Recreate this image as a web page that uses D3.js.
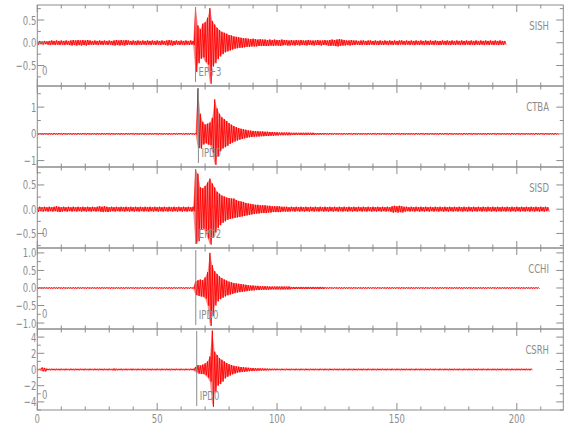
<!DOCTYPE html>
<html>
<head>
<meta charset="utf-8">
<script src="https://cdn.jsdelivr.net/npm/d3@7/dist/d3.min.js"></script>
<style>
  body { margin: 0; background: #fff; }
</style>
</head>
<body>
<div id="chart"></div>
<script>
// station traces: amplitude envelope, one value per second from t = 0
// (up = positive peak in that second, lo = negative peak)
const sishUp = [
  .03,.04,.03,.04,.03,.04,.05,.04,.05,.04,
  .05,.04,.05,.04,.05,.06,.05,.06,.05,.06,
  .05,.06,.05,.04,.05,.04,.05,.04,.05,.04,
  .05,.04,.05,.06,.05,.06,.05,.06,.05,.04,
  .05,.04,.05,.04,.05,.04,.05,.04,.05,.04,
  .05,.04,.05,.04,.05,.06,.05,.04,.05,.04,
  .05,.04,.05,.04,.05,.04,.78,.38,.30,.42,
  .45,.55,.76,.48,.40,.33,.28,.24,.22,.20,
  .17,.16,.14,.13,.12,.11,.10,.10,.09,.08,
  .09,.08,.07,.08,.07,.07,.06,.07,.06,.07,
  .06,.06,.07,.06,.06,.05,.06,.05,.06,.05,
  .06,.05,.05,.06,.05,.05,.05,.06,.05,.05,
  .06,.05,.06,.07,.06,.07,.08,.07,.06,.05,
  .05,.06,.05,.05,.04,.05,.05,.04,.05,.05,
  .04,.05,.04,.05,.04,.05,.04,.05,.04,.05,
  .04,.05,.05,.04,.05,.04,.05,.04,.05,.04,
  .05,.04,.05,.04,.05,.04,.05,.04,.04,.05,
  .04,.05,.04,.05,.04,.05,.04,.05,.04,.05,
  .04,.05,.04,.05,.04,.05,.04,.05,.04,.05,
  .04,.05,.04,.05,.04,.04];
const sishLo = [
  -.04,-.03,-.04,-.03,-.04,-.05,-.04,-.05,-.04,-.05,
  -.04,-.05,-.04,-.05,-.06,-.05,-.06,-.05,-.06,-.05,
  -.06,-.05,-.04,-.05,-.04,-.05,-.04,-.05,-.04,-.05,
  -.04,-.05,-.06,-.05,-.06,-.05,-.06,-.05,-.04,-.05,
  -.04,-.05,-.04,-.05,-.04,-.05,-.04,-.05,-.04,-.05,
  -.04,-.05,-.04,-.05,-.06,-.05,-.06,-.05,-.04,-.05,
  -.04,-.05,-.04,-.05,-.04,-.05,-.64,-.45,-.35,-.32,
  -.42,-.48,-.90,-.52,-.45,-.36,-.30,-.25,-.21,-.19,
  -.17,-.15,-.13,-.12,-.11,-.11,-.10,-.09,-.09,-.08,
  -.08,-.08,-.07,-.07,-.07,-.07,-.07,-.06,-.07,-.06,
  -.06,-.07,-.06,-.05,-.06,-.06,-.05,-.06,-.05,-.06,
  -.05,-.05,-.06,-.05,-.05,-.06,-.05,-.05,-.06,-.05,
  -.05,-.06,-.07,-.06,-.07,-.08,-.07,-.06,-.06,-.05,
  -.06,-.05,-.05,-.04,-.05,-.05,-.04,-.05,-.05,-.04,
  -.05,-.04,-.05,-.04,-.05,-.04,-.05,-.04,-.05,-.04,
  -.05,-.04,-.04,-.05,-.04,-.05,-.04,-.05,-.04,-.05,
  -.04,-.05,-.04,-.05,-.04,-.05,-.04,-.05,-.05,-.04,
  -.05,-.04,-.05,-.04,-.05,-.04,-.05,-.04,-.05,-.04,
  -.05,-.04,-.05,-.04,-.05,-.04,-.05,-.04,-.05,-.04,
  -.05,-.04,-.05,-.04,-.05,-.04];

const ctbaUp = [
  .02,.03,.02,.03,.02,.03,.02,.03,.02,.03,
  .02,.03,.02,.03,.02,.03,.02,.03,.02,.03,
  .02,.03,.02,.03,.02,.03,.02,.03,.02,.03,
  .02,.03,.02,.03,.02,.03,.02,.03,.02,.03,
  .02,.03,.02,.03,.02,.03,.02,.03,.02,.03,
  .02,.03,.02,.03,.02,.03,.02,.03,.02,.03,
  .03,.02,.03,.02,.03,.02,.03,1.70,.75,.45,
  .35,.38,.42,.60,1.29,.95,.75,.62,.55,.48,
  .40,.34,.29,.25,.22,.19,.17,.15,.13,.12,
  .11,.10,.10,.09,.09,.08,.08,.07,.07,.06,
  .06,.05,.05,.05,.05,.05,.04,.04,.04,.04,
  .04,.04,.04,.04,.04,.04,.03,.03,.03,.03,
  .03,.02,.03,.02,.03,.02,.03,.02,.03,.02,
  .03,.02,.03,.02,.03,.02,.03,.02,.03,.02,
  .03,.02,.03,.02,.03,.02,.03,.02,.03,.02,
  .03,.02,.03,.02,.03,.02,.03,.02,.03,.02,
  .03,.02,.03,.02,.03,.02,.03,.02,.03,.02,
  .03,.02,.03,.02,.03,.02,.03,.02,.03,.02,
  .03,.02,.03,.02,.03,.02,.03,.02,.03,.02,
  .03,.02,.03,.02,.03,.02,.03,.02,.03,.02,
  .03,.02,.03,.02,.03,.02,.03,.02,.03,.02,
  .03,.02,.03,.02,.03,.02,.03,.02];
const ctbaLo = [
  -.03,-.02,-.03,-.02,-.03,-.02,-.03,-.02,-.03,-.02,
  -.03,-.02,-.03,-.02,-.03,-.02,-.03,-.02,-.03,-.02,
  -.03,-.02,-.03,-.02,-.03,-.02,-.03,-.02,-.03,-.02,
  -.03,-.02,-.03,-.02,-.03,-.02,-.03,-.02,-.03,-.02,
  -.03,-.02,-.03,-.02,-.03,-.02,-.03,-.02,-.03,-.02,
  -.03,-.02,-.03,-.02,-.03,-.02,-.03,-.02,-.03,-.02,
  -.02,-.03,-.02,-.03,-.02,-.03,-.02,-.53,-.55,-.40,
  -.35,-.40,-.42,-.70,-1.16,-.85,-.65,-.55,-.50,-.45,
  -.38,-.33,-.29,-.25,-.22,-.19,-.17,-.15,-.13,-.12,
  -.11,-.10,-.10,-.09,-.09,-.08,-.08,-.07,-.07,-.06,
  -.06,-.05,-.05,-.05,-.05,-.05,-.04,-.04,-.04,-.04,
  -.04,-.04,-.04,-.04,-.04,-.04,-.03,-.03,-.03,-.03,
  -.02,-.03,-.02,-.03,-.02,-.03,-.02,-.03,-.02,-.03,
  -.02,-.03,-.02,-.03,-.02,-.03,-.02,-.03,-.02,-.03,
  -.02,-.03,-.02,-.03,-.02,-.03,-.02,-.03,-.02,-.03,
  -.02,-.03,-.02,-.03,-.02,-.03,-.02,-.03,-.02,-.03,
  -.02,-.03,-.02,-.03,-.02,-.03,-.02,-.03,-.02,-.03,
  -.02,-.03,-.02,-.03,-.02,-.03,-.02,-.03,-.02,-.03,
  -.02,-.03,-.02,-.03,-.02,-.03,-.02,-.03,-.02,-.03,
  -.02,-.03,-.02,-.03,-.02,-.03,-.02,-.03,-.02,-.03,
  -.02,-.03,-.02,-.03,-.02,-.03,-.02,-.03,-.02,-.03,
  -.02,-.03,-.02,-.03,-.02,-.03,-.02,-.03];

const sisdUp = [
  .04,.05,.04,.05,.04,.05,.04,.05,.06,.05,
  .04,.05,.04,.05,.04,.05,.04,.05,.04,.05,
  .04,.05,.04,.05,.04,.05,.06,.05,.06,.05,
  .04,.05,.04,.05,.04,.05,.04,.05,.04,.05,
  .04,.05,.04,.05,.04,.05,.04,.05,.04,.05,
  .04,.05,.04,.05,.04,.05,.04,.05,.04,.05,
  .04,.05,.04,.05,.04,.05,.82,.73,.45,.43,
  .48,.55,.63,.53,.45,.36,.32,.28,.26,.24,
  .23,.22,.22,.19,.17,.16,.15,.13,.12,.11,
  .10,.09,.09,.08,.08,.08,.07,.07,.06,.06,
  .06,.06,.05,.05,.05,.04,.05,.04,.05,.04,
  .05,.04,.05,.04,.05,.04,.05,.04,.05,.04,
  .05,.04,.05,.04,.05,.04,.05,.04,.05,.04,
  .05,.04,.05,.04,.05,.04,.05,.04,.05,.04,
  .05,.04,.05,.04,.05,.04,.05,.04,.06,.07,
  .06,.07,.06,.05,.05,.04,.05,.04,.05,.04,
  .05,.04,.05,.04,.05,.04,.05,.04,.05,.04,
  .05,.04,.05,.04,.05,.04,.05,.04,.05,.04,
  .05,.04,.05,.04,.05,.04,.05,.04,.05,.04,
  .05,.04,.05,.04,.05,.04,.05,.04,.05,.04,
  .05,.04,.05,.04,.05,.04,.05,.04,.05,.04,
  .05,.04,.05,.04];
const sisdLo = [
  -.05,-.04,-.05,-.04,-.05,-.04,-.05,-.04,-.05,-.06,
  -.05,-.04,-.05,-.04,-.05,-.04,-.05,-.04,-.05,-.04,
  -.05,-.04,-.05,-.04,-.05,-.04,-.05,-.06,-.05,-.06,
  -.05,-.04,-.05,-.04,-.05,-.04,-.05,-.04,-.05,-.04,
  -.05,-.04,-.05,-.04,-.05,-.04,-.05,-.04,-.05,-.04,
  -.05,-.04,-.05,-.04,-.05,-.04,-.05,-.04,-.05,-.04,
  -.05,-.04,-.05,-.04,-.05,-.04,-.71,-.66,-.42,-.40,
  -.45,-.60,-.73,-.59,-.48,-.39,-.33,-.28,-.25,-.22,
  -.20,-.19,-.18,-.17,-.16,-.15,-.14,-.13,-.12,-.11,
  -.10,-.09,-.09,-.08,-.08,-.08,-.07,-.07,-.06,-.06,
  -.06,-.06,-.05,-.05,-.05,-.05,-.04,-.05,-.04,-.05,
  -.04,-.05,-.04,-.05,-.04,-.05,-.04,-.05,-.04,-.05,
  -.04,-.05,-.04,-.05,-.04,-.05,-.04,-.05,-.04,-.05,
  -.04,-.05,-.04,-.05,-.04,-.05,-.04,-.05,-.04,-.05,
  -.04,-.05,-.04,-.05,-.04,-.05,-.04,-.05,-.07,-.06,
  -.07,-.06,-.07,-.05,-.04,-.05,-.04,-.05,-.04,-.05,
  -.04,-.05,-.04,-.05,-.04,-.05,-.04,-.05,-.04,-.05,
  -.04,-.05,-.04,-.05,-.04,-.05,-.04,-.05,-.04,-.05,
  -.04,-.05,-.04,-.05,-.04,-.05,-.04,-.05,-.04,-.05,
  -.04,-.05,-.04,-.05,-.04,-.05,-.04,-.05,-.04,-.05,
  -.04,-.05,-.04,-.05,-.04,-.05,-.04,-.05,-.04,-.05,
  -.04,-.05,-.04,-.05];

const cchiUp = [
  .015,.02,.015,.02,.015,.02,.015,.02,.015,.02,
  .015,.02,.015,.02,.015,.02,.015,.02,.015,.02,
  .015,.02,.015,.02,.015,.02,.015,.02,.015,.02,
  .015,.02,.015,.02,.015,.02,.015,.02,.015,.02,
  .015,.02,.015,.02,.015,.02,.015,.02,.015,.02,
  .015,.02,.015,.02,.015,.02,.015,.02,.015,.02,
  .02,.015,.02,.015,.02,.015,.18,.22,.24,.22,
  .30,.45,1.00,.65,.48,.40,.33,.28,.24,.21,
  .18,.16,.14,.13,.12,.11,.10,.09,.08,.07,
  .07,.06,.06,.05,.05,.05,.05,.04,.04,.04,
  .04,.04,.04,.04,.04,.04,.03,.03,.03,.03,
  .03,.03,.03,.03,.03,.03,.03,.03,.03,.03,
  .02,.015,.02,.015,.02,.015,.02,.015,.02,.015,
  .02,.015,.02,.015,.02,.015,.02,.015,.02,.015,
  .02,.015,.02,.015,.02,.015,.02,.015,.02,.015,
  .02,.015,.02,.015,.02,.015,.02,.015,.02,.015,
  .02,.015,.02,.015,.02,.015,.02,.015,.02,.015,
  .02,.015,.02,.015,.02,.015,.02,.015,.02,.015,
  .02,.015,.02,.015,.02,.015,.02,.015,.02,.015,
  .02,.015,.02,.015,.02,.015,.02,.015,.02,.015,
  .02,.015,.02,.015,.02,.015,.02,.015,.02,.015];
const cchiLo = [
  -.02,-.015,-.02,-.015,-.02,-.015,-.02,-.015,-.02,-.015,
  -.02,-.015,-.02,-.015,-.02,-.015,-.02,-.015,-.02,-.015,
  -.02,-.015,-.02,-.015,-.02,-.015,-.02,-.015,-.02,-.015,
  -.02,-.015,-.02,-.015,-.02,-.015,-.02,-.015,-.02,-.015,
  -.02,-.015,-.02,-.015,-.02,-.015,-.02,-.015,-.02,-.015,
  -.02,-.015,-.02,-.015,-.02,-.015,-.02,-.015,-.02,-.015,
  -.015,-.02,-.015,-.02,-.015,-.02,-.20,-.22,-.24,-.25,
  -.30,-.50,-1.08,-.80,-.50,-.38,-.32,-.28,-.24,-.21,
  -.19,-.17,-.15,-.13,-.12,-.11,-.10,-.09,-.08,-.07,
  -.07,-.06,-.06,-.05,-.05,-.05,-.05,-.04,-.04,-.04,
  -.04,-.04,-.04,-.04,-.04,-.04,-.03,-.03,-.03,-.03,
  -.03,-.03,-.03,-.03,-.03,-.03,-.03,-.03,-.03,-.03,
  -.015,-.02,-.015,-.02,-.015,-.02,-.015,-.02,-.015,-.02,
  -.015,-.02,-.015,-.02,-.015,-.02,-.015,-.02,-.015,-.02,
  -.015,-.02,-.015,-.02,-.015,-.02,-.015,-.02,-.015,-.02,
  -.015,-.02,-.015,-.02,-.015,-.02,-.015,-.02,-.015,-.02,
  -.015,-.02,-.015,-.02,-.015,-.02,-.015,-.02,-.015,-.02,
  -.015,-.02,-.015,-.02,-.015,-.02,-.015,-.02,-.015,-.02,
  -.015,-.02,-.015,-.02,-.015,-.02,-.015,-.02,-.015,-.02,
  -.015,-.02,-.015,-.02,-.015,-.02,-.015,-.02,-.015,-.02,
  -.015,-.02,-.015,-.02,-.015,-.02,-.015,-.02,-.015,-.02];

const csrhUp = [
  .10,.08,.25,.20,.10,.08,.10,.08,.10,.08,
  .10,.08,.10,.08,.10,.08,.10,.08,.10,.08,
  .10,.08,.10,.08,.10,.08,.10,.08,.10,.08,
  .10,.08,.12,.10,.08,.10,.08,.10,.08,.10,
  .10,.08,.10,.08,.10,.08,.10,.08,.10,.08,
  .10,.08,.10,.08,.10,.08,.10,.08,.10,.08,
  .10,.08,.10,.08,.10,.08,.30,.55,.50,.60,
  .75,1.00,1.60,4.80,2.20,1.80,1.40,1.20,1.00,.80,
  .65,.55,.45,.40,.35,.30,.28,.25,.22,.20,
  .18,.16,.15,.14,.13,.12,.11,.10,.10,.10,
  .10,.08,.10,.08,.10,.08,.10,.08,.10,.08,
  .10,.08,.10,.08,.10,.08,.10,.08,.10,.08,
  .10,.08,.10,.08,.10,.08,.10,.08,.10,.08,
  .10,.08,.10,.08,.10,.08,.10,.08,.10,.08,
  .10,.08,.10,.08,.10,.08,.10,.08,.10,.08,
  .10,.08,.10,.08,.10,.08,.10,.08,.10,.08,
  .10,.08,.10,.08,.10,.08,.10,.08,.10,.08,
  .10,.08,.10,.08,.10,.08,.10,.08,.10,.08,
  .10,.08,.10,.08,.10,.08,.10,.08,.10,.08,
  .10,.08,.10,.08,.10,.08,.10,.08,.10,.08,
  .10,.08,.10,.08,.10,.08,.10];
const csrhLo = [
  -.08,-.10,-.22,-.25,-.08,-.10,-.08,-.10,-.08,-.10,
  -.08,-.10,-.08,-.10,-.08,-.10,-.08,-.10,-.08,-.10,
  -.08,-.10,-.08,-.10,-.08,-.10,-.08,-.10,-.08,-.10,
  -.08,-.10,-.12,-.10,-.08,-.10,-.08,-.10,-.08,-.10,
  -.08,-.10,-.08,-.10,-.08,-.10,-.08,-.10,-.08,-.10,
  -.08,-.10,-.08,-.10,-.08,-.10,-.08,-.10,-.08,-.10,
  -.08,-.10,-.08,-.10,-.08,-.10,-.30,-.50,-.55,-.55,
  -.70,-1.00,-1.50,-4.60,-2.80,-2.00,-1.80,-1.50,-1.10,-.90,
  -.75,-.60,-.50,-.40,-.35,-.30,-.28,-.25,-.22,-.20,
  -.18,-.16,-.15,-.14,-.13,-.12,-.11,-.10,-.10,-.10,
  -.08,-.10,-.08,-.10,-.08,-.10,-.08,-.10,-.08,-.10,
  -.08,-.10,-.08,-.10,-.08,-.10,-.08,-.10,-.08,-.10,
  -.08,-.10,-.08,-.10,-.08,-.10,-.08,-.10,-.08,-.10,
  -.08,-.10,-.08,-.10,-.08,-.10,-.08,-.10,-.08,-.10,
  -.08,-.10,-.08,-.10,-.08,-.10,-.08,-.10,-.08,-.10,
  -.08,-.10,-.08,-.10,-.08,-.10,-.08,-.10,-.08,-.10,
  -.08,-.10,-.08,-.10,-.08,-.10,-.08,-.10,-.08,-.10,
  -.08,-.10,-.08,-.10,-.08,-.10,-.08,-.10,-.08,-.10,
  -.08,-.10,-.08,-.10,-.08,-.10,-.08,-.10,-.08,-.10,
  -.08,-.10,-.08,-.10,-.08,-.10,-.08,-.10,-.08,-.10,
  -.08,-.10,-.08,-.10,-.08,-.10,-.08];

const stations = ["SISH", "CTBA", "SISD", "CCHI", "CSRH"];
const phases = ["EP+3", "IPD0", "EPD2", "IPD0", "IPD0"];
const picks = [66.0, 67.2, 66.1, 66.1, 66.5];   // phase pick time (s)
const ups = [sishUp, ctbaUp, sisdUp, cchiUp, csrhUp];
const los = [sishLo, ctbaLo, sisdLo, cchiLo, csrhLo];
const yDomains = [[-0.95, 0.83], [-1.24, 1.79], [-0.80, 0.87], [-1.17, 1.14], [-5, 5]];
const yMajor = [[-0.5, 0, 0.5], [-1, 0, 1], [-0.5, 0, 0.5], [-1, -0.5, 0, 0.5, 1], [-4, -2, 0, 2, 4]];
const yMinorStep = [0.25, 0.5, 0.25, 0.25, 1];
const yFormat = [".1f", "d", ".1f", ".1f", "d"];
const zeroMark = [true, false, true, true, true];
const xTicks = [0, 50, 100, 150, 200];
const xMax = 219.4;

const width = 580, height = 440;
const left = 37.3, right = 563.3, top0 = 5, panelH = 81;
const gray = "#8c8c8c";

const svg = d3.select("#chart").append("svg")
  .attr("width", width)
  .attr("height", height);

const x = d3.scaleLinear().domain([0, xMax]).range([left, right]);

// narrow text like the original plot font
function label(g, txt, px, py, anchor) {
  g.append("text")
    .attr("transform", "translate(" + px + "," + py + ") scale(0.68,1)")
    .attr("text-anchor", anchor)
    .style("font-family", "DejaVu Sans, sans-serif")
    .style("font-size", "12.5px")
    .style("fill", gray)
    .text(txt);
}

const xMinor = d3.range(0, xMax, 10);

stations.forEach((name, k) => {
  const top = top0 + k * panelH;
  const bot = top + panelH;
  const g = svg.append("g");
  const y = d3.scaleLinear().domain(yDomains[k]).range([bot, top]);

  g.append("clipPath").attr("id", "clip" + k)
    .append("rect").attr("x", left).attr("y", top).attr("width", right - left).attr("height", panelH);

  const up = ups[k], lo = los[k];
  const n = Math.min(up.length, lo.length);
  const idx = d3.range(n);

  // envelope fill, lighter, then the wiggle on top
  g.append("path")
    .attr("clip-path", "url(#clip" + k + ")")
    .attr("d", d3.area().x(i => x(i)).y0(i => y(lo[i])).y1(i => y(up[i]))(idx))
    .attr("fill", "#ff0000")
    .attr("fill-opacity", 0.45);

  // trace: zig-zag between the positive and negative peak of each second
  const pts = [];
  for (let i = 0; i < n; i++) {
    pts.push([i, up[i]]);
    pts.push([i + 0.5, lo[i]]);
  }
  g.append("path")
    .attr("clip-path", "url(#clip" + k + ")")
    .attr("d", d3.line().x(d => x(d[0])).y(d => y(d[1]))(pts))
    .attr("fill", "none")
    .attr("stroke", "#ff0000")
    .attr("stroke-width", 0.9);

  // phase pick
  g.append("line")
    .attr("x1", x(picks[k])).attr("x2", x(picks[k]))
    .attr("y1", top + 2).attr("y2", top + 77)
    .attr("stroke", gray).attr("stroke-width", 1);

  // frame
  g.append("rect")
    .attr("x", left).attr("y", top)
    .attr("width", right - left).attr("height", panelH)
    .attr("fill", "none").attr("stroke", gray).attr("stroke-width", 1);

  // x ticks, top and bottom of each panel
  xMinor.forEach(t => {
    const len = t % 50 === 0 ? 7 : 3.5;
    g.append("line").attr("x1", x(t)).attr("x2", x(t)).attr("y1", top).attr("y2", top + len)
      .attr("stroke", gray);
    g.append("line").attr("x1", x(t)).attr("x2", x(t)).attr("y1", bot).attr("y2", bot - len)
      .attr("stroke", gray);
  });

  // y ticks, left and right
  const dom = yDomains[k], st = yMinorStep[k];
  const yTickVals = d3.range(Math.ceil(dom[0] / st) * st, dom[1], st);
  yTickVals.forEach(v => {
    const major = yMajor[k].some(m => Math.abs(m - v) < 1e-6);
    const len = major ? 7 : 3.5;
    g.append("line").attr("x1", left).attr("x2", left + len).attr("y1", y(v)).attr("y2", y(v))
      .attr("stroke", gray);
    g.append("line").attr("x1", right).attr("x2", right - len).attr("y1", y(v)).attr("y2", y(v))
      .attr("stroke", gray);
  });

  const fmt = d3.format(yFormat[k]);
  yMajor[k].forEach(v => label(g, fmt(v), left - 1, y(v) + 4.5, "end"));

  label(g, name, 549, top + 24.5, "end");
  label(g, phases[k], x(picks[k]) + 3, top + 71, "start");
  if (zeroMark[k]) label(g, "0", 42, top + 70, "start");
});

// time axis labels under the last panel
const axG = svg.append("g");
xTicks.forEach(t => label(axG, String(t), x(t), top0 + 5 * panelH + 13, "middle"));
</script>
</body>
</html>
